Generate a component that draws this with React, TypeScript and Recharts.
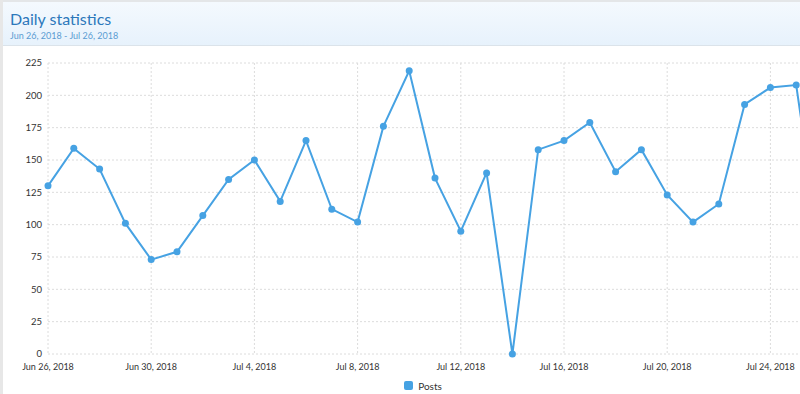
import { CartesianGrid, Legend, Line, LineChart, XAxis, YAxis } from 'recharts';

const days = [
  'Jun 26, 2018', 'Jun 27, 2018', 'Jun 28, 2018', 'Jun 29, 2018', 'Jun 30, 2018',
  'Jul 1, 2018', 'Jul 2, 2018', 'Jul 3, 2018', 'Jul 4, 2018', 'Jul 5, 2018',
  'Jul 6, 2018', 'Jul 7, 2018', 'Jul 8, 2018', 'Jul 9, 2018', 'Jul 10, 2018',
  'Jul 11, 2018', 'Jul 12, 2018', 'Jul 13, 2018', 'Jul 14, 2018', 'Jul 15, 2018',
  'Jul 16, 2018', 'Jul 17, 2018', 'Jul 18, 2018', 'Jul 19, 2018', 'Jul 20, 2018',
  'Jul 21, 2018', 'Jul 22, 2018', 'Jul 23, 2018', 'Jul 24, 2018', 'Jul 25, 2018',
  'Jul 26, 2018',
];

const posts = [
  130, 159, 143, 101, 73, 79, 107, 135, 150, 118,
  165, 112, 102, 176, 219, 136, 95, 140, 0, 158,
  165, 179, 141, 158, 123, 102, 116, 193, 206, 208,
  70,
];

const xTicks = [
  'Jun 26, 2018', 'Jun 30, 2018', 'Jul 4, 2018', 'Jul 8, 2018',
  'Jul 12, 2018', 'Jul 16, 2018', 'Jul 20, 2018', 'Jul 24, 2018',
];
const yTicks = [0, 25, 50, 75, 100, 125, 150, 175, 200, 225];

const BLUE = '#46a2e3';
const FONT = 'Lato, "Open Sans", sans-serif';

const chartData = days.map((day, i) => ({ day, posts: posts[i] }));

function PostsLegend() {
  return (
    <div
      style={{
        display: 'flex',
        justifyContent: 'center',
        alignItems: 'center',
        gap: 5,
        fontSize: 10,
        color: '#333',
        fontFamily: FONT,
        height: 20,
        paddingTop: 3,
        paddingLeft: 24,
        boxSizing: 'border-box',
      }}
    >
      <span
        style={{ width: 9, height: 9, background: BLUE, borderRadius: 2, display: 'inline-block' }}
      />
      <span>Posts</span>
    </div>
  );
}

export default function App() {
  return (
    <div
      style={{
        position: 'absolute',
        left: 0,
        top: 0,
        width: 800,
        height: 394,
        overflow: 'hidden',
        background: '#fff',
        fontFamily: FONT,
      }}
    >
      <div
        style={{
          height: 43,
          borderTop: '2px solid #e4e6e8',
          borderBottom: '1px solid #dbe3ea',
          background: 'linear-gradient(#f4f9fe, #e7f2fc)',
          paddingLeft: 10,
          boxSizing: 'content-box',
        }}
      >
        <div style={{ fontSize: 16, color: '#2c78bb', paddingTop: 6, lineHeight: '21px' }}>
          Daily statistics
        </div>
        <div style={{ fontSize: 9, color: '#5a9cd2', lineHeight: '13px' }}>
          Jun 26, 2018 - Jul 26, 2018
        </div>
      </div>
      <div style={{ position: 'absolute', left: 0, top: 0, width: 3, height: 394, background: '#e7e7e7' }} />
      <div style={{ position: 'absolute', left: 0, top: 46 }}>
        <LineChart
          width={846}
          height={348}
          data={chartData}
          margin={{ top: 17, right: 24, left: 0, bottom: 0 }}
        >
          <CartesianGrid stroke="#dcdcdc" strokeDasharray="2 2" />
          <XAxis
            dataKey="day"
            ticks={xTicks}
            interval={0}
            axisLine={false}
            tickLine={false}
            tick={{ fontSize: 9, fill: '#333' }}
            tickMargin={4}
            height={20}
          />
          <YAxis
            domain={[0, 225]}
            ticks={yTicks}
            axisLine={false}
            tickLine={false}
            tick={{ fontSize: 9.5, fill: '#333' }}
            tickSize={4}
            tickMargin={2}
            width={48}
          />
          <Legend verticalAlign="bottom" height={20} content={<PostsLegend />} />
          <Line
            type="linear"
            dataKey="posts"
            name="Posts"
            stroke={BLUE}
            strokeWidth={2}
            dot={{ r: 3.5, fill: BLUE, stroke: BLUE, strokeWidth: 0 }}
            activeDot={false}
            isAnimationActive={false}
          />
        </LineChart>
      </div>
    </div>
  );
}
